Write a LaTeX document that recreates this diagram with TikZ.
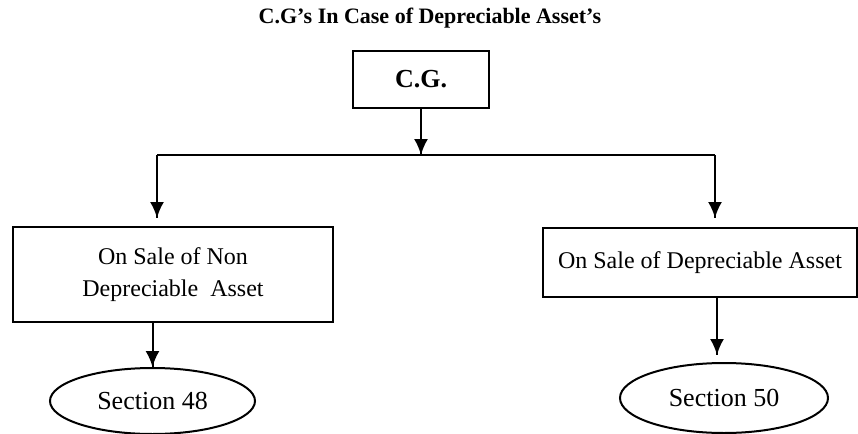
\documentclass[tikz,border=0pt]{standalone}
\usepackage{fontspec}
\setmainfont{Liberation Serif}
\usetikzlibrary{decorations.markings,shapes.geometric,arrows.meta}

\begin{document}
\begin{tikzpicture}[x=0.5pt, y=-0.5pt, line width=1pt,
  box/.style={draw, rectangle, align=center, inner sep=0pt, font=\fontsize{12}{16}\selectfont},
  oval/.style={draw, ellipse, inner sep=0pt, font=\fontsize{13}{15}\selectfont},
  tip/.style={decoration={markings,mark=at position 1 with {\arrow{Latex[length=8pt,width=7pt]}}},postaction={decorate}}]
\useasboundingbox (0,0) rectangle (858,434);
\node[font=\bfseries\fontsize{11}{13}\selectfont] (title) at (430,18) {C.G’s In Case of Depreciable Asset’s};
\node[box, font=\bfseries\fontsize{13}{15}\selectfont, minimum width=68pt, minimum height=28.5pt] (cg) at (421,79) {C.G.};
\node[box, minimum width=160pt, minimum height=47.5pt] (nondep) at (173,274.5) {On Sale of Non\\Depreciable\ \ Asset};
\node[box, minimum width=157pt, minimum height=34.5pt] (dep) at (700,262.5) {On Sale of Depreciable Asset};
\node[oval, minimum width=102.5pt, minimum height=33pt] (s48) at (152.5,401) {Section 48};
\node[oval, minimum width=104pt, minimum height=35pt] (s50) at (724,398) {Section 50};
\coordinate (split) at (421,155);
\coordinate (lft) at (157,155);
\coordinate (rgt) at (715,155);
\coordinate (ndtip) at (157,218);
\coordinate (dtip) at (715,218);
\coordinate (s50tip) at (717,355);
\draw (lft) -- (rgt);
\draw[tip] (cg.south) -- (split);
\draw[tip] (lft) -- (ndtip);
\draw[tip] (rgt) -- (dtip);
\draw[tip] (nondep.south -| s48.north) -- (s48.north);
\draw[tip] (dep.south -| s50tip) -- (s50tip);
\end{tikzpicture}
\end{document}
